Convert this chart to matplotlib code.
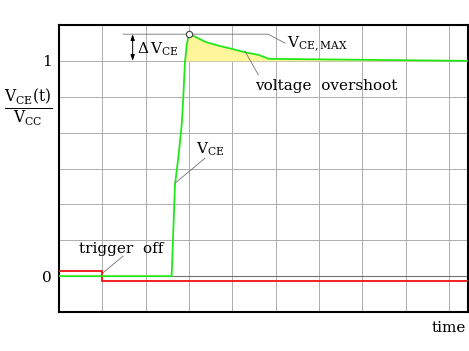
import matplotlib
matplotlib.use("Agg")
import matplotlib.pyplot as plt

plt.rcParams["font.family"] = "DejaVu Serif"
plt.rcParams["mathtext.fontset"] = "dejavuserif"

# collector-emitter voltage (normalised)
t_vce = [0, 2.60, 2.677, 2.753, 2.832, 2.869, 2.908, 2.947, 2.984, 3.0,
         3.139, 3.37, 3.676, 3.986, 4.29, 4.60, 4.75, 4.83, 4.98, 5.56,
         7.5, 9.45]
vce = [0, 0, 0.425, 0.548, 0.702, 0.833, 0.995, 1.073, 1.111, 1.124,
       1.1125, 1.089, 1.071, 1.056, 1.040, 1.028, 1.017, 1.010, 1.009,
       1.008, 1.004, 1.0]
# gate trigger signal
t_trig = [0, 1.0, 1.0, 9.45]
trig = [0.023, 0.023, -0.023, -0.023]
t_peak, v_peak = 3.0, 1.124

GREEN, RED, LEAD = "#22e81a", "#f01010", "0.45"

fig = plt.figure(figsize=(4.69, 3.51), dpi=100)
ax = fig.add_axes([59 / 469, 1 - 312 / 351, 409 / 469, 287 / 351])
ax.set_xlim(0, 9.44)
ax.set_ylim(-1 / 6, 7 / 6)

ax.set_xticks(range(1, 10))
ax.set_xticklabels([])
ax.set_yticks([k / 6 for k in range(-1, 8)])
ax.set_yticklabels(["" if k not in (0, 6) else ("0" if k == 0 else "1")
                    for k in range(-1, 8)], fontsize=11)
ax.tick_params(length=0, pad=5)
ax.grid(color="0.68", lw=0.7)
ax.set_axisbelow(True)
ax.axhline(0, color="0.45", lw=0.8, zorder=1)
for sp in ax.spines.values():
    sp.set_linewidth(1.5)

# overshoot area above 1
ax.fill_between(t_vce, 1, vce, where=[v >= 1 for v in vce],
                interpolate=True, color="#fff59a", lw=0, zorder=2)
ax.plot(t_trig, trig, color=RED, lw=1.3, zorder=3)
ax.plot(t_vce, vce, color=GREEN, lw=1.3, zorder=4)
ax.plot([t_peak], [v_peak], "o", ms=4.5, mfc="white", mec="0.25",
        mew=0.8, zorder=6)

# V_CE,MAX marker line and leader
ax.plot([1.48, 4.83, 5.22], [v_peak, v_peak, 1.082], color=LEAD, lw=0.6,
        zorder=3)
ax.text(5.26, 1.059, r"$\mathrm{V_{CE,MAX}}$", fontsize=11)

# delta V_CE arrow
ax.annotate("", xy=(1.70, 1.0), xytext=(1.70, v_peak),
            arrowprops=dict(arrowstyle="<|-|>,head_length=0.35,head_width=0.12",
                            color="black", lw=0.7, shrinkA=0, shrinkB=0))
ax.text(1.79, 1.036, r"$\Delta\,\mathrm{V_{CE}}$", fontsize=11)

# voltage overshoot label
ax.plot([4.29, 4.60], [1.046, 0.935], color=LEAD, lw=0.6, zorder=5)
ax.text(4.52, 0.866, "voltage  overshoot", fontsize=11)

# V_CE label
ax.plot([2.68, 3.37], [0.432, 0.548], color=LEAD, lw=0.6, zorder=5)
ax.text(3.16, 0.571, r"$\mathrm{V_{CE}}$", fontsize=11)

# trigger off label
ax.plot([1.02, 1.48], [0.016, 0.093], color=LEAD, lw=0.6, zorder=5)
ax.text(0.46, 0.108, "trigger  off", fontsize=11)

fig.text(28 / 469, 1 - 108 / 351,
         r"$\frac{\mathrm{V_{CE}(t)}}{\mathrm{V_{CC}}}$", fontsize=16,
         ha="center", va="center")
fig.text(466 / 469, 1 - 331.7 / 351, "time", fontsize=11, ha="right",
         va="baseline")

fig.savefig("out.png", dpi=100)
